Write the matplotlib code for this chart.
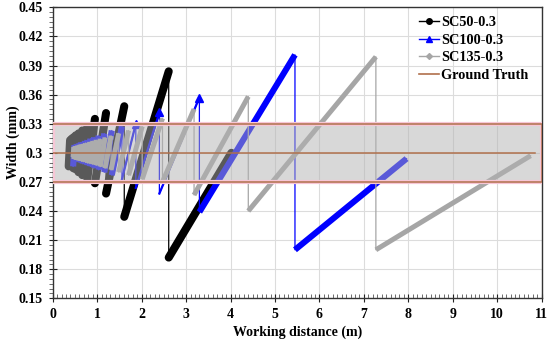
import matplotlib
matplotlib.use('Agg')
import matplotlib.pyplot as plt
from matplotlib.patches import Rectangle
from matplotlib.ticker import MultipleLocator, FuncFormatter
from matplotlib.lines import Line2D

plt.rcParams['font.family'] = ['Liberation Serif', 'DejaVu Serif']
plt.rcParams['font.weight'] = 'bold'

# ---- data: sawtooth vertices (segment start, segment end, ...) ----
sc50_d = [0.36, 0.391, 0.391, 0.425, 0.425, 0.466, 0.466, 0.517, 0.517, 0.581,
          0.581, 0.665, 0.665, 0.779, 0.779, 0.95, 0.95, 1.20, 1.20, 1.61,
          1.61, 2.61, 2.61, 4.02]
sc50_w = [0.286, 0.313, 0.287, 0.3145, 0.286, 0.316, 0.284, 0.318, 0.283, 0.320,
          0.280, 0.323, 0.277, 0.327, 0.273, 0.335, 0.2686, 0.341, 0.258, 0.348,
          0.234, 0.384, 0.192, 0.300]

sc100_d = [0.46, 0.49, 0.49, 0.512, 0.512, 0.538, 0.538, 0.566, 0.566, 0.598,
           0.598, 0.635, 0.635, 0.676, 0.676, 0.725, 0.725, 0.782, 0.782, 0.85,
           0.85, 0.932, 0.932, 1.033, 1.033, 1.161, 1.161, 1.329, 1.329, 1.558,
           1.558, 1.87, 1.87, 2.40, 2.40, 3.30, 3.30, 5.45, 5.45, 7.96]
sc100_w = [0.286, 0.308, 0.2925, 0.3078, 0.2916, 0.3087, 0.2916, 0.309, 0.2909, 0.3096,
           0.2903, 0.3106, 0.2899, 0.3109, 0.2887, 0.3121, 0.2881, 0.3131, 0.287, 0.3145,
           0.2859, 0.3159, 0.2843, 0.3176, 0.2824, 0.3199, 0.2799, 0.323, 0.2769, 0.3272,
           0.2727, 0.330, 0.2639, 0.3416, 0.258, 0.357, 0.239, 0.401, 0.200, 0.294]
sc100_dense = [True] * 15 + [False, False, False, True, True]

sc135_d = [0.46, 0.475, 0.475, 0.494, 0.494, 0.515, 0.515, 0.537, 0.537, 0.562,
           0.562, 0.589, 0.589, 0.620, 0.620, 0.653, 0.653, 0.691, 0.691, 0.734,
           0.734, 0.782, 0.782, 0.838, 0.838, 0.903, 0.903, 0.979, 0.979, 1.069,
           1.069, 1.178, 1.178, 1.313, 1.313, 1.485, 1.485, 1.708, 1.708, 2.013,
           2.013, 2.47, 2.47, 3.18, 3.18, 4.40, 4.40, 7.27, 7.27, 10.75]
sc135_w = [0.2956, 0.3059, 0.2937, 0.3062, 0.2935, 0.3068, 0.2934, 0.3067, 0.2928, 0.3072,
           0.2926, 0.3075, 0.2921, 0.3083, 0.2921, 0.3084, 0.2913, 0.309, 0.2908, 0.3098,
           0.2904, 0.3102, 0.2895, 0.3111, 0.2889, 0.3121, 0.2881, 0.3132, 0.2871, 0.3143,
           0.2857, 0.3157, 0.2841, 0.3175, 0.2823, 0.3201, 0.2801, 0.323, 0.2769, 0.3272,
           0.2727, 0.3355, 0.270, 0.345, 0.2565, 0.358, 0.240, 0.399, 0.200, 0.297]

ground_truth = 0.3
band_low, band_high = 0.27, 0.33

series_labels = ['SC50-0.3', 'SC100-0.3', 'SC135-0.3', 'Ground Truth']

# ---- figure ----
fig = plt.figure(figsize=(5.5, 3.43), dpi=100)
ax = fig.add_axes([0.0958, 0.1303, 0.8891, 0.8484])
ax.set_xlim(0, 11)
ax.set_ylim(0.15, 0.45)

C_BLACK = '#000000'
C_BLUE = '#0000ff'
C_GRAY = '#a6a6a6'
C_GT = '#b0704c'


def draw(d, w, color, lw, cap, marker, z, dense=None):
    ax.plot(d, w, color=color, lw=0.9, zorder=z)
    for k in range(0, len(d), 2):
        seg = k // 2
        if dense is None or dense[seg]:
            ax.plot(d[k:k + 2], w[k:k + 2], color=color, lw=lw,
                    solid_capstyle=cap, zorder=z)
        else:
            ax.plot(d[k:k + 2], w[k:k + 2], color=color, lw=1.6, zorder=z,
                    marker=marker, markersize=6, markevery=[1])


draw(sc50_d, sc50_w, C_BLACK, 5.8, 'round', 'o', 2)
draw(sc100_d, sc100_w, C_BLUE, 4.4, 'butt', '^', 3, sc100_dense)
draw(sc135_d, sc135_w, C_GRAY, 3.6, 'butt', 'D', 4)

# shaded tolerance band on top of the data
ax.add_patch(Rectangle((0, band_low), 11, band_high - band_low,
                       facecolor=(0.70, 0.70, 0.70), alpha=0.5,
                       edgecolor='none', zorder=5))
ax.add_patch(Rectangle((0, band_low), 11, band_high - band_low,
                       fill=False, edgecolor='#f7c6d6', lw=3.0, zorder=5.5))
ax.hlines([band_low, band_high], 0, 11, color=C_GT, lw=1.1, zorder=6)
ax.vlines([11], band_low, band_high, color=C_GT, lw=1.1, zorder=6)
ax.plot([0, 10.85], [ground_truth, ground_truth], color=C_GT, lw=1.1, zorder=6)

# ---- axes styling ----
ax.grid(True, which='major', color='#dcdcdc', lw=0.8, zorder=0)
ax.set_axisbelow(True)
ax.xaxis.set_major_locator(MultipleLocator(1))
ax.xaxis.set_minor_locator(MultipleLocator(0.1))
ax.yaxis.set_major_locator(MultipleLocator(0.03))
ax.yaxis.set_minor_locator(MultipleLocator(0.005))
ax.yaxis.set_major_formatter(FuncFormatter(lambda v, p: '%g' % round(v, 2)))
ax.tick_params(axis='x', which='major', direction='inout', length=6, width=0.8,
               labelsize=10, pad=4, colors='#222222')
ax.tick_params(axis='x', which='minor', direction='in', length=3, width=0.6,
               colors='#555555')
ax.tick_params(axis='y', which='major', direction='inout', length=6, width=0.8,
               labelsize=10, pad=4, colors='#222222')
ax.tick_params(axis='y', which='minor', direction='out', length=3, width=0.6,
               colors='#555555')
for lab in ax.get_xticklabels() + ax.get_yticklabels():
    lab.set_fontweight('bold')
    lab.set_color('black')
for s in ax.spines.values():
    s.set_color('#333333')
    s.set_linewidth(1.0)

ax.set_xlabel('Working distance (m)', fontsize=10, fontweight='bold')
ax.set_ylabel('Width (mm)', fontsize=10, fontweight='bold')
ax.xaxis.set_label_coords(0.5, -0.095)
ax.yaxis.set_label_coords(-0.067, 0.537)

handles = [
    Line2D([], [], color=C_BLACK, lw=1.0, marker='o', markersize=4),
    Line2D([], [], color=C_BLUE, lw=1.0, marker='^', markersize=4.5),
    Line2D([], [], color=C_GRAY, lw=1.0, marker='D', markersize=3),
    Line2D([], [], color=C_GT, lw=1.2),
]
leg = ax.legend(handles, series_labels, loc='upper left',
                bbox_to_anchor=(0.729, 1.005), frameon=False,
                prop={'family': ['Liberation Serif'], 'weight': 'bold', 'size': 10.3},
                handlelength=1.4, handletextpad=0.15, labelspacing=0.33,
                borderaxespad=0.3)
leg.set_zorder(10)

fig.savefig('out.png', dpi=100)
